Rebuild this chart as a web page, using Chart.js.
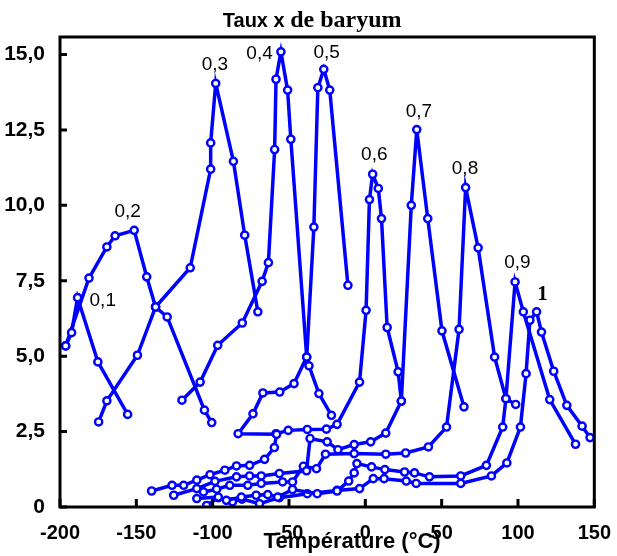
<!DOCTYPE html>
<html>
<head>
<meta charset="utf-8">
<script src="https://cdn.jsdelivr.net/npm/chart.js@4.4.0/dist/chart.umd.min.js"></script>
<style>
  html, body { margin: 0; padding: 0; background: #fff; }
  canvas { display: block; }
</style>
</head>
<body>
<canvas id="chart" width="617" height="556"></canvas>
<script>
// axis ticks
const xTicks = [-200, -150, -100, -50, 0, 50, 100, 150];
const yTicks = [0, 2.5, 5, 7.5, 10, 12.5, 15];
const yTickLabels = ['0', '2,5', '5,0', '7,5', '10,0', '12,5', '15,0'];

// curve names (barium ratio x) and where their names sit (data coords)
const seriesNames = ['0,1', '0,2', '0,3', '0,4', '0,5', '0,6', '0,7', '0,8', '0,9', '1'];
const nameX = [-172, -155.7, -98.5, -69.3, -25.3, 5.9, 35.1, 65.3, 99.6, 116.1];
const nameY = [6.85, 9.78, 14.65, 15.03, 15.07, 11.66, 13.1, 11.22, 8.09, 7.05];

// temperature (°C) / permittivity values
const t01 = [-196.3, -192.4, -188.5, -175.2, -155.7];
const v01 = [5.34, 5.78, 6.94, 4.81, 3.07];

const t02 = [-196.3, -181, -169.3, -163.9, -151.4, -143.2, -137.4, -129.8, -105.4, -100.6];
const v02 = [5.34, 7.59, 8.62, 8.99, 9.17, 7.63, 6.63, 6.30, 3.21, 2.80];

const t03 = [-174.7, -169.3, -149.3, -137.4, -114.7, -101.3, -101.3, -98.0, -86.4, -79, -70.4];
const v03 = [2.82, 3.52, 5.03, 6.63, 7.93, 11.2, 12.07, 14.04, 11.46, 9.01, 6.47];

const t04 = [-120.1, -108.2, -96.7, -80.6, -67.6, -63.5, -59.4, -58.5, -55.3, -50.9, -48.8, -38.4, -36.9, -30.4, -22.2];
const v04 = [3.54, 4.14, 5.36, 6.10, 7.48, 8.10, 11.85, 14.18, 15.09, 13.82, 12.19, 4.97, 4.68, 3.76, 3.04];

const t05 = [-140, -126.6, -119, -110.4, -101.7, -92, -84.4, -75.8, -66, -59.6, -58.1, -83.3, -73.6, -67.1, -56.1, -46.7, -38.4, -33.7, -31.1, -27.2, -23.3, -11.4];
const v05 = [0.53, 0.72, 0.72, 0.89, 1.07, 1.22, 1.36, 1.38, 1.58, 1.97, 2.41, 2.43, 3.09, 3.78, 3.81, 4.09, 4.97, 9.28, 13.9, 14.51, 13.82, 7.35];

const t06 = [-58.5, -50.5, -38, -25.5, -18.5, -3.8, 0.5, 2.7, 4.8, 8.5, 10.6, 14.3, 21.5, 23.6];
const v06 = [2.43, 2.54, 2.57, 2.58, 2.74, 4.14, 6.52, 10.19, 11.03, 10.56, 9.56, 5.95, 4.48, 3.51];

const t07 = [-125.5, -110.4, -98.5, -84.4, -75.8, -68.2, -56.3, -38.5, -36.2, -25, -17.9, -7.3, 3.5, 13.4, 23.6, 30.1, 33.7, 40.9, 50.2, 64.6];
const v07 = [0.39, 0.61, 0.85, 1.0, 1.03, 1.03, 1.11, 1.2, 2.27, 2.16, 1.9, 2.07, 2.16, 2.45, 3.51, 10.0, 12.51, 9.56, 5.84, 3.32];

const t08 = [-106, -97.4, -88.8, -77, -68.2, -54.2, -47.7, -40.6, -32, -26.1, -7.3, 13.4, 26.4, 41.3, 53.2, 61.4, 65.7, 73.9, 84.7, 92.1, 98.5];
const v08 = [0.5, 0.59, 0.72, 0.72, 0.78, 0.83, 0.83, 1.35, 1.27, 1.75, 1.77, 1.75, 1.79, 1.99, 2.65, 5.89, 10.59, 8.59, 4.97, 3.59, 3.4];

const t09 = [-110.4, -96.3, -91, -81.2, -71.5, -63.9, -57.4, -47.7, -31.5, -18.5, -10.9, -7.3, -5.5, 4.1, 12.8, 25.7, 32.2, 42, 62.5, 79.3, 90, 92.1, 98.1, 103.5, 120.8, 137.7];
const v09 = [0.28, 0.33, 0.22, 0.33, 0.39, 0.41, 0.33, 0.58, 0.44, 0.53, 0.86, 1.13, 1.44, 1.33, 1.24, 1.16, 1.13, 1.0, 1.03, 1.38, 2.65, 3.59, 7.46, 6.47, 3.56, 2.08];

const t10 = [-103.9, -96.3, -87, -80.8, -69.3, -56.3, -38, -18.5, -3.8, 5.2, 12.3, 26.8, 33.3, 62.5, 82.6, 92.7, 101.6, 105.3, 107.8, 112.2, 115.4, 123.4, 132, 142, 147.2];
const v10 = [0.05, 0.31, 0.17, 0.26, 0.11, 0.31, 0.44, 0.55, 0.61, 0.94, 0.94, 0.86, 0.78, 0.78, 1.03, 1.46, 2.65, 4.42, 6.19, 6.47, 5.8, 4.5, 3.37, 2.68, 2.3];

const temps = [t01, t02, t03, t04, t05, t06, t07, t08, t09, t10];
const vals = [v01, v02, v03, v04, v05, v06, v07, v08, v09, v10];

const blue = '#0000ff';

const datasets = temps.map((t, k) => ({
  label: seriesNames[k],
  data: t.map((x, i) => ({ x: x, y: vals[k][i] })),
  showLine: true,
  borderColor: blue,
  borderWidth: 3.5,
  pointRadius: 3.6,
  pointBorderWidth: 2.4,
  pointBackgroundColor: '#fff',
  pointBorderColor: blue,
  tension: 0
}));

// frame, inner ticks, curve names, title
const decor = {
  id: 'decor',
  afterDraw(chart) {
    const ctx = chart.ctx;
    const a = chart.chartArea;
    const xs = chart.scales.x, ys = chart.scales.y;
    ctx.save();
    ctx.strokeStyle = '#000';
    ctx.lineWidth = 3;
    ctx.strokeRect(a.left, a.top, a.right - a.left, a.bottom - a.top);
    ctx.beginPath();
    xTicks.forEach(v => {
      const px = xs.getPixelForValue(v);
      ctx.moveTo(px, a.bottom);
      ctx.lineTo(px, a.bottom - 8);
    });
    yTicks.forEach(v => {
      const py = ys.getPixelForValue(v);
      ctx.moveTo(a.left, py);
      ctx.lineTo(a.left + 7, py);
    });
    ctx.stroke();

    ctx.fillStyle = '#000';
    ctx.textAlign = 'center';
    ctx.textBaseline = 'middle';
    seriesNames.forEach((n, k) => {
      ctx.font = n === '1' ? 'bold 21px "Liberation Serif"' : '19px "Liberation Sans"';
      ctx.fillText(n, xs.getPixelForValue(nameX[k]), ys.getPixelForValue(nameY[k]));
    });

    // title: mixed fonts as in the original
    ctx.textAlign = 'left';
    ctx.textBaseline = 'alphabetic';
    ctx.font = 'bold 20px "Liberation Sans"';
    const part1 = 'Taux x ';
    const part2 = 'de baryum';
    const w1 = ctx.measureText(part1).width;
    ctx.font = 'bold 24px "Liberation Serif"';
    const w2 = ctx.measureText(part2).width;
    const tx = (a.left + a.right) / 2 - (w1 + w2) / 2 - 15;
    ctx.font = 'bold 20px "Liberation Sans"';
    ctx.fillText(part1, tx, 27);
    ctx.font = 'bold 24px "Liberation Serif"';
    ctx.fillText(part2, tx + w1, 27);

    // x axis title
    ctx.textAlign = 'center';
    ctx.font = 'bold 22px "Liberation Sans"';
    ctx.fillText('Température (°C)', (a.left + a.right) / 2 + 25, 548);
    ctx.restore();
  }
};

new Chart(document.getElementById('chart'), {
  type: 'scatter',
  data: { datasets: datasets },
  options: {
    responsive: false,
    animation: false,
    layout: { padding: { top: 37, right: 17, left: 0, bottom: 0 } },
    plugins: { legend: { display: false }, tooltip: { enabled: false } },
    scales: {
      x: {
        type: 'linear',
        min: -200,
        max: 150,
        grid: { display: false },
        border: { display: false },
        afterBuildTicks: s => { s.ticks = xTicks.map(v => ({ value: v })); },
        afterFit: s => { s.height = 49; },
        ticks: {
          autoSkip: false,
          maxRotation: 0,
          padding: 6,
          color: '#000',
          font: { family: 'Liberation Sans', size: 20, weight: 'bold' },
          callback: v => String(v)
        }
      },
      y: {
        type: 'linear',
        min: 0,
        max: 15.58,
        grid: { display: false },
        border: { display: false },
        afterBuildTicks: s => { s.ticks = yTicks.map(v => ({ value: v })); },
        afterFit: s => { s.width = 60; },
        ticks: {
          autoSkip: false,
          padding: 7,
          color: '#000',
          font: { family: 'Liberation Sans', size: 21, weight: 'bold' },
          callback: v => yTickLabels[yTicks.indexOf(v)]
        }
      }
    }
  },
  plugins: [decor]
});
</script>
</body>
</html>
